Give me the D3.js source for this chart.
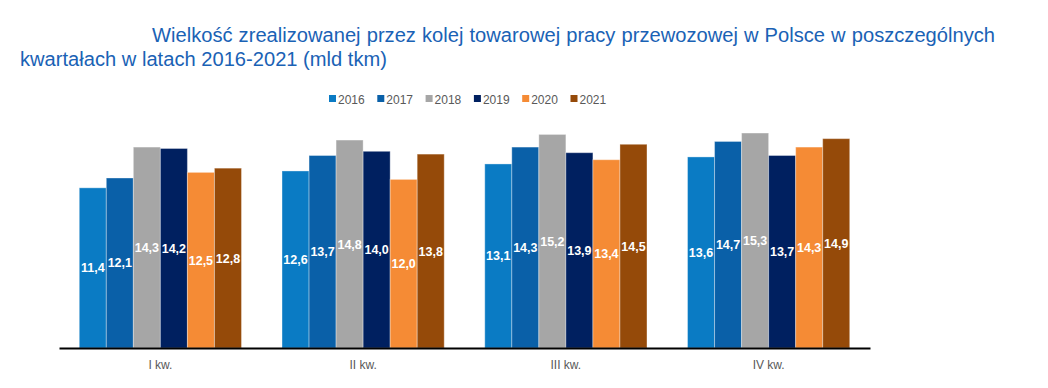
<!DOCTYPE html>
<html lang="pl">
<head>
<meta charset="UTF-8">
<script src="https://d3js.org/d3.v7.min.js"></script>
<style>
  html, body { margin: 0; padding: 0; background: #fff; }
  svg { display: block; }
</style>
</head>
<body>
<svg id="chart" width="1048" height="388"></svg>
<script>
// dane
var quarters = ["I kw.", "II kw.", "III kw.", "IV kw."];
var years = ["2016", "2017", "2018", "2019", "2020", "2021"];
var v2016 = [11.4, 12.6, 13.1, 13.6];
var v2017 = [12.1, 13.7, 14.3, 14.7];
var v2018 = [14.3, 14.8, 15.2, 15.3];
var v2019 = [14.2, 14.0, 13.9, 13.7];
var v2020 = [12.5, 12.0, 13.4, 14.3];
var v2021 = [12.8, 13.8, 14.5, 14.9];
var colors = ["#0a7bc4", "#0a60a8", "#a6a6a6", "#002060", "#f58b35", "#954a09"];

var series = [v2016, v2017, v2018, v2019, v2020, v2021];

var svg = d3.select("#chart");
var fmt = function(v) { return d3.format(".1f")(v).replace(".", ","); };

// tytul - pierwsza linia wyjustowana
var titleColor = "#1a62b5";
var titleFont = "'Liberation Sans', sans-serif";
var line2 = svg.append("text")
    .attr("x", 20).attr("y", 66)
    .attr("font-family", titleFont).attr("font-size", 19.5)
    .attr("fill", titleColor)
    .text("kwartałach w latach 2016-2021 (mld tkm)");
var w2 = line2.node().getComputedTextLength();
var squeeze = 367 / w2;
line2.attr("textLength", 367).attr("lengthAdjust", "spacingAndGlyphs");

var words = "Wielkość zrealizowanej przez kolej towarowej pracy przewozowej w Polsce w poszczególnych".split(" ");
var wordEls = words.map(function(w) {
  return svg.append("text")
    .attr("y", 42)
    .attr("font-family", titleFont).attr("font-size", 19.5)
    .attr("fill", titleColor)
    .text(w);
});
var widths = wordEls.map(function(e) { return e.node().getComputedTextLength() * squeeze; });
var x0 = 152, x1 = 995;
var gap = (x1 - x0 - d3.sum(widths)) / (words.length - 1);
var cx = x0;
wordEls.forEach(function(e, i) {
  e.attr("x", cx).attr("textLength", widths[i]).attr("lengthAdjust", "spacingAndGlyphs");
  cx += widths[i] + gap;
});

// legenda
var legend = svg.append("g").attr("transform", "translate(329,99)");
years.forEach(function(y, i) {
  var g = legend.append("g").attr("transform", "translate(" + (i * 48.3) + ",0)");
  g.append("rect").attr("x", 0).attr("y", -4).attr("width", 7).attr("height", 7).attr("fill", colors[i]);
  g.append("text").attr("x", 9).attr("y", 4.5)
    .attr("font-family", titleFont).attr("font-size", 12)
    .attr("fill", "#595959").text(y);
});

// skale
var x = d3.scaleBand().domain(quarters).range([59, 870]).paddingInner(0.2).paddingOuter(0.1);
var xs = d3.scaleBand().domain(years).range([0, x.bandwidth()]);
var y = d3.scaleLinear().domain([0, 16]).range([348, 123.2]);

var groups = svg.append("g").selectAll("g").data(quarters).join("g")
    .attr("transform", function(q) { return "translate(" + x(q) + ",0)"; });

groups.each(function(q, qi) {
  var g = d3.select(this);
  years.forEach(function(yr, si) {
    var v = series[si][qi];
    g.append("rect")
      .attr("x", xs(yr)).attr("y", y(v))
      .attr("width", xs.bandwidth()).attr("height", y(0) - y(v))
      .attr("fill", colors[si])
      .attr("stroke", "#ffffff").attr("stroke-opacity", 0.35).attr("stroke-width", 1);
    g.append("text")
      .attr("x", xs(yr) + xs.bandwidth() / 2)
      .attr("y", (y(v) + y(0)) / 2 + 4.5)
      .attr("text-anchor", "middle")
      .attr("font-family", titleFont).attr("font-weight", "bold").attr("font-size", 12.5)
      .attr("fill", "#ffffff")
      .text(fmt(v));
  });
});

// os X
var xAxis = svg.append("g").attr("transform", "translate(0,348)")
    .call(d3.axisBottom(x).tickSize(0).tickPadding(12));
xAxis.select(".domain").attr("stroke", "#000").attr("stroke-width", 2);
xAxis.selectAll("text")
    .attr("font-family", titleFont).attr("font-size", 12)
    .attr("fill", "#595959");
</script>
</body>
</html>
